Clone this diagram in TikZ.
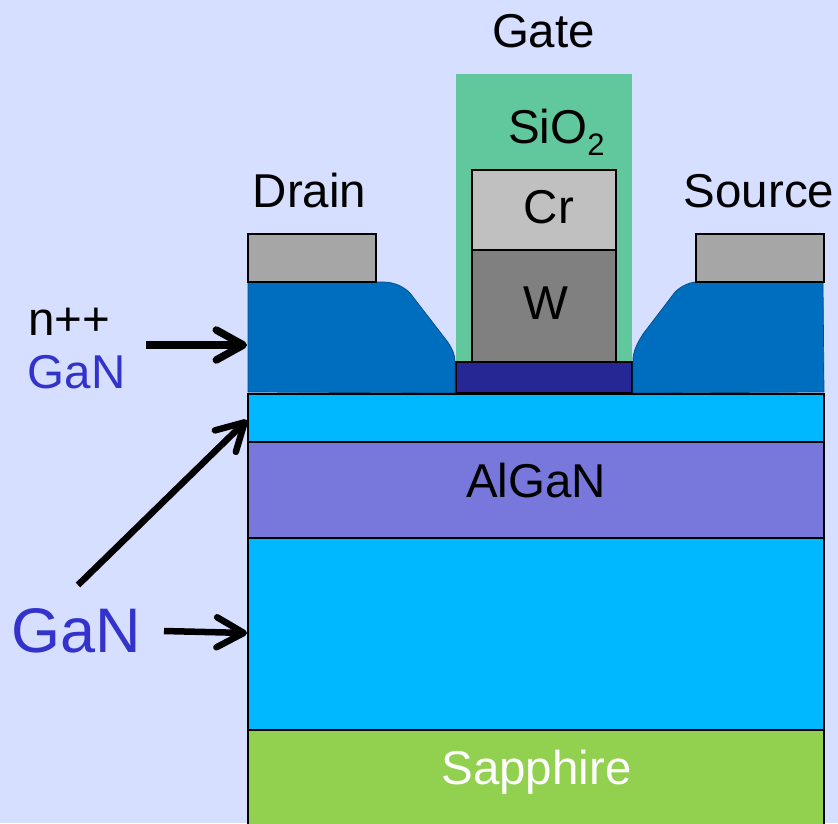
\documentclass[tikz,border=0pt]{standalone}
\usepackage{fontspec}
\setmainfont{Liberation Sans}
\usetikzlibrary{arrows.meta}
\definecolor{bgc}{HTML}{D6DFFF}
\definecolor{oxide}{HTML}{60C89C}
\definecolor{crc}{HTML}{C0C0C0}
\definecolor{wc}{HTML}{808080}
\definecolor{darkb}{HTML}{262694}
\definecolor{doped}{HTML}{006EBE}
\definecolor{ganc}{HTML}{00B8FF}
\definecolor{algan}{HTML}{7878DC}
\definecolor{sapph}{HTML}{92D050}
\definecolor{contact}{HTML}{A6A6A6}
\definecolor{labelblue}{HTML}{3333CC}
\tikzset{
  layer/.style={draw=black,line width=1.6pt},
  lab/.style={inner sep=0pt,anchor=base,font=\fontsize{47.5}{48}\selectfont},
  pointer/.style={draw=black,line width=#1,-{Straight Barb[length=27pt,width=30pt,line width=#1,round]}},
  dopedshape/.style={fill=doped,draw=doped!70!black,line width=0.7pt}
}
\begin{document}
\begin{tikzpicture}[x=1pt,y=-1pt]
\useasboundingbox (0,0) rectangle (838,823);
\fill[bgc] (0,0) rectangle (838,823);
% gate stack
\fill[oxide] (456,74) rectangle (632,362);
\draw[layer,fill=crc] (472,170) rectangle (616,250);
\draw[layer,fill=wc] (472,250) rectangle (616,362);
\draw[layer,fill=darkb] (456,362) rectangle (632,393);
% doped regions
\path[dopedshape] (248,282) -- (383,282) .. controls (395,282) and (404,287) .. (410,293) -- (447,341) .. controls (452,348) and (455,354) .. (455,362) -- (455,393) -- (248,392) -- cycle;
\path[dopedshape] (633,393) -- (633,358) .. controls (634,349) and (638,342) .. (643,334) -- (672,296) .. controls (677,288) and (688,282) .. (697,282) -- (823,282) -- (824,392) -- cycle;
% contacts
\draw[layer,fill=contact] (248,234) rectangle (376,282);
\draw[layer,fill=contact] (696,234) rectangle (824,282);
% layers
\draw[layer,fill=ganc] (248,394) rectangle (824,442);
\draw[layer,fill=algan] (248,442) rectangle (824,538);
\draw[layer,fill=ganc] (248,538) rectangle (824,730);
\draw[layer,fill=sapph] (248,730) rectangle (824,830);
% labels
\node[lab] (gate) at (543.5,47) {Gate};
\node[lab] (sio) at (556.5,143) {SiO\raisebox{-12pt}{\fontsize{31}{31}\selectfont 2}};
\node[lab] (drain) at (309.5,207) {Drain};
\node[lab] (source) at (759,207) {Source};
\node[lab] (cr) at (549,223) {Cr};
\node[lab] (w) at (546,319) {W};
\node[lab] (npp) at (69,335) {n++};
\node[lab,text=labelblue] (ganA) at (76.5,388) {GaN};
\node[lab] (alganl) at (536,497) {AlGaN};
\node[lab,text=labelblue,font=\fontsize{63}{64}\selectfont] (ganB) at (76,652) {GaN};
\node[lab,text=white] (sapphire) at (536.5,784) {Sapphire};
% connectors
\coordinate (a1) at (146,345);
\coordinate (a1e) at (247,345);
\coordinate (a2) at (78,585);
\coordinate (a2e) at (247,420);
\coordinate (a3) at (164,631);
\coordinate (a3e) at (247,633);
\draw[pointer=7.5pt] (a1) -- (a1e);
\draw[pointer=6.5pt] (a2) -- (a2e);
\draw[pointer=6.5pt] (a3) -- (a3e);
\end{tikzpicture}
\end{document}
